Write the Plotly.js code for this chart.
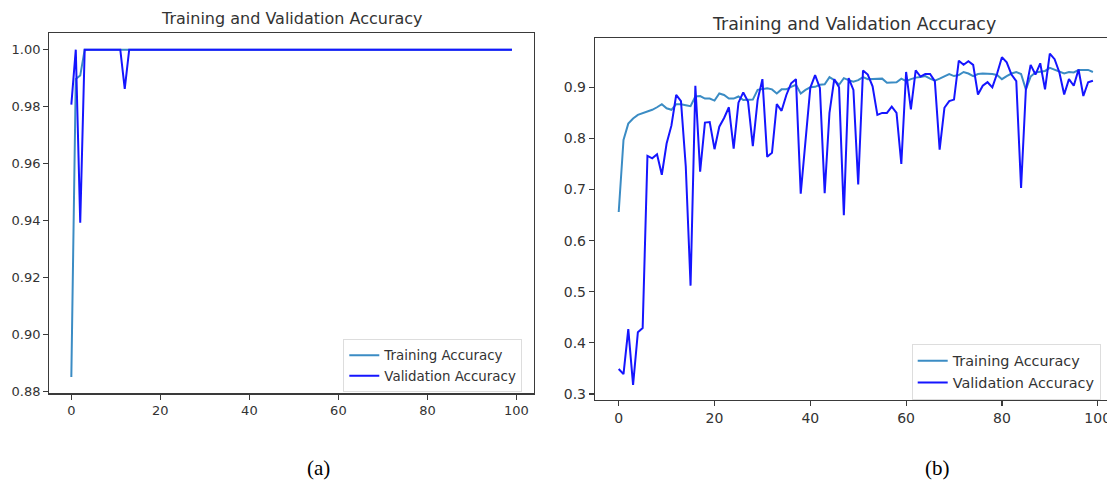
<!DOCTYPE html>
<html>
<head>
<meta charset="utf-8">
<script src="https://cdn.plot.ly/plotly-3.0.1.min.js"></script>
<style>
  html, body { margin: 0; padding: 0; background: #ffffff; }
  #chart { width: 1107px; height: 489px; }
</style>
</head>
<body>
<div id="chart"></div>
<script>
// ---------- data ----------
const epochs = [
  0,1,2,3,4,5,6,7,8,9, 10,11,12,13,14,15,16,17,18,19,
  20,21,22,23,24,25,26,27,28,29, 30,31,32,33,34,35,36,37,38,39,
  40,41,42,43,44,45,46,47,48,49, 50,51,52,53,54,55,56,57,58,59,
  60,61,62,63,64,65,66,67,68,69, 70,71,72,73,74,75,76,77,78,79,
  80,81,82,83,84,85,86,87,88,89, 90,91,92,93,94,95,96,97,98,99
];

// (a) left panel
const trainAccA = [
  0.885, 0.9897, 0.9909, 1, 1, 1, 1, 1, 1, 1,
  1, 1, 1, 1, 1, 1, 1, 1, 1, 1,
  1, 1, 1, 1, 1, 1, 1, 1, 1, 1,
  1, 1, 1, 1, 1, 1, 1, 1, 1, 1,
  1, 1, 1, 1, 1, 1, 1, 1, 1, 1,
  1, 1, 1, 1, 1, 1, 1, 1, 1, 1,
  1, 1, 1, 1, 1, 1, 1, 1, 1, 1,
  1, 1, 1, 1, 1, 1, 1, 1, 1, 1,
  1, 1, 1, 1, 1, 1, 1, 1, 1, 1,
  1, 1, 1, 1, 1, 1, 1, 1, 1, 1
];
const valAccA = [
  0.9807, 1, 0.9392, 1, 1, 1, 1, 1, 1, 1,
  1, 1, 0.9862, 1, 1, 1, 1, 1, 1, 1,
  1, 1, 1, 1, 1, 1, 1, 1, 1, 1,
  1, 1, 1, 1, 1, 1, 1, 1, 1, 1,
  1, 1, 1, 1, 1, 1, 1, 1, 1, 1,
  1, 1, 1, 1, 1, 1, 1, 1, 1, 1,
  1, 1, 1, 1, 1, 1, 1, 1, 1, 1,
  1, 1, 1, 1, 1, 1, 1, 1, 1, 1,
  1, 1, 1, 1, 1, 1, 1, 1, 1, 1,
  1, 1, 1, 1, 1, 1, 1, 1, 1, 1
];

// (b) right panel
const trainAccB = [
  0.656, 0.797, 0.829, 0.839, 0.846, 0.849, 0.852, 0.856, 0.861, 0.867,
  0.859, 0.856, 0.867, 0.867, 0.865, 0.863, 0.882, 0.883, 0.878, 0.878,
  0.874, 0.888, 0.885, 0.878, 0.878, 0.882, 0.875, 0.875, 0.876, 0.895,
  0.896, 0.898, 0.896, 0.888, 0.896, 0.896, 0.901, 0.905, 0.888, 0.895,
  0.900, 0.901, 0.905, 0.906, 0.920, 0.914, 0.905, 0.918, 0.914, 0.911,
  0.914, 0.920, 0.916, 0.916, 0.917, 0.917, 0.909, 0.910, 0.910, 0.917,
  0.912, 0.916, 0.919, 0.920, 0.922, 0.917, 0.913, 0.917, 0.922, 0.926,
  0.922, 0.924, 0.930, 0.927, 0.922, 0.926, 0.927, 0.927, 0.926, 0.924,
  0.916, 0.922, 0.927, 0.930, 0.926, 0.896, 0.921, 0.929, 0.930, 0.932,
  0.938, 0.934, 0.930, 0.927, 0.930, 0.929, 0.934, 0.934, 0.934, 0.930
];
const valAccB = [
  0.349, 0.339, 0.427, 0.318, 0.421, 0.429, 0.766, 0.761, 0.769, 0.729,
  0.790, 0.825, 0.885, 0.873, 0.745, 0.512, 0.903, 0.735, 0.831, 0.832,
  0.779, 0.823, 0.840, 0.861, 0.780, 0.870, 0.890, 0.872, 0.785, 0.875,
  0.916, 0.764, 0.772, 0.867, 0.854, 0.885, 0.908, 0.916, 0.692, 0.800,
  0.899, 0.924, 0.899, 0.693, 0.850, 0.916, 0.900, 0.650, 0.918, 0.895,
  0.710, 0.933, 0.925, 0.902, 0.846, 0.850, 0.850, 0.862, 0.850, 0.750,
  0.930, 0.857, 0.933, 0.921, 0.926, 0.926, 0.912, 0.778, 0.860, 0.873,
  0.876, 0.952, 0.944, 0.951, 0.944, 0.886, 0.903, 0.910, 0.900, 0.927,
  0.959, 0.949, 0.925, 0.912, 0.703, 0.895, 0.944, 0.925, 0.947, 0.896,
  0.966, 0.955, 0.929, 0.886, 0.916, 0.903, 0.935, 0.883, 0.910, 0.913
];

const seriesNames = ['Training Accuracy', 'Validation Accuracy'];
const chartTitle = 'Training and Validation Accuracy';
const ticksA_y = [0.88, 0.90, 0.92, 0.94, 0.96, 0.98, 1.00];
const ticksB_y = [0.3, 0.4, 0.5, 0.6, 0.7, 0.8, 0.9];
const ticksX = [0, 20, 40, 60, 80, 100];
const captions = ['(a)', '(b)'];

// ---------- styling ----------
const W = 1107, H = 489;
const trainColor = '#3b8cc4';
const valColor = '#1515ff';
const axisColor = '#3a3a3a';
const textColor = '#333333';
const fontFam = 'DejaVu Sans, sans-serif';

const px = v => v / W;
const py = v => 1 - v / H;

const traces = [
  { x: epochs, y: trainAccA, type: 'scatter', mode: 'lines', name: seriesNames[0],
    line: { color: trainColor, width: 2 }, xaxis: 'x', yaxis: 'y', legend: 'legend' },
  { x: epochs, y: valAccA, type: 'scatter', mode: 'lines', name: seriesNames[1],
    line: { color: valColor, width: 2 }, xaxis: 'x', yaxis: 'y', legend: 'legend' },
  { x: epochs, y: trainAccB, type: 'scatter', mode: 'lines', name: seriesNames[0],
    line: { color: trainColor, width: 2 }, xaxis: 'x2', yaxis: 'y2', legend: 'legend2' },
  { x: epochs, y: valAccB, type: 'scatter', mode: 'lines', name: seriesNames[1],
    line: { color: valColor, width: 2 }, xaxis: 'x2', yaxis: 'y2', legend: 'legend2' }
];

function axisBase(fs) {
  return {
    showgrid: false, zeroline: false, showline: true,
    linecolor: axisColor, linewidth: 1.2,
    ticks: 'outside', ticklen: 5, tickwidth: 1.2, tickcolor: axisColor,
    tickfont: { family: fontFam, size: fs, color: textColor },
    ticklabeloverflow: 'allow',
    automargin: false, fixedrange: true
  };
}

const layout = {
  width: W, height: H,
  margin: { l: 0, r: 0, t: 0, b: 0, pad: 0 },
  paper_bgcolor: '#ffffff', plot_bgcolor: '#ffffff',
  showlegend: true,
  xaxis: Object.assign(axisBase(13), {
    domain: [px(49.3), px(534)], range: [-4.95, 103.95],
    tickvals: ticksX, ticktext: ticksX.map(String), mirror: true, anchor: 'y'
  }),
  yaxis: Object.assign(axisBase(13), {
    domain: [py(393.3), py(33.3)], range: [0.87925, 1.00575],
    tickvals: ticksA_y, ticktext: ticksA_y.map(v => v.toFixed(2)), mirror: true, anchor: 'x'
  }),
  xaxis2: Object.assign(axisBase(14), {
    domain: [px(595), 1], range: [-4.95, 101.94],
    tickvals: ticksX, ticktext: ticksX.map(String), mirror: true, anchor: 'y2'
  }),
  yaxis2: Object.assign(axisBase(14), {
    domain: [py(400), py(38.3)], range: [0.2883, 0.9959],
    tickvals: ticksB_y, ticktext: ticksB_y.map(v => v.toFixed(1)), mirror: false, anchor: 'x2'
  }),
  legend: {
    x: px(343.3), y: py(339), xanchor: 'left', yanchor: 'top',
    bgcolor: '#ffffff', bordercolor: '#dddddd', borderwidth: 1,
    font: { family: fontFam, size: 13.4, color: textColor },
    itemwidth: 30, tracegroupgap: 0
  },
  legend2: {
    x: px(911.7), y: py(344), xanchor: 'left', yanchor: 'top',
    bgcolor: '#ffffff', bordercolor: '#dddddd', borderwidth: 1,
    font: { family: fontFam, size: 14.4, color: textColor },
    itemwidth: 30, tracegroupgap: 0
  },
  annotations: [
    { text: chartTitle, xref: 'paper', yref: 'paper', x: px(291.5), y: py(19),
      xanchor: 'center', yanchor: 'middle', showarrow: false,
      font: { family: fontFam, size: 16, color: textColor } },
    { text: chartTitle, xref: 'paper', yref: 'paper', x: px(854), y: py(24),
      xanchor: 'center', yanchor: 'middle', showarrow: false,
      font: { family: fontFam, size: 17.4, color: textColor } },
    { text: captions[0], xref: 'paper', yref: 'paper', x: px(318), y: py(468),
      xanchor: 'center', yanchor: 'middle', showarrow: false,
      font: { family: 'Liberation Serif, Times New Roman, serif', size: 21, color: '#000000' } },
    { text: captions[1], xref: 'paper', yref: 'paper', x: px(937), y: py(468),
      xanchor: 'center', yanchor: 'middle', showarrow: false,
      font: { family: 'Liberation Serif, Times New Roman, serif', size: 21, color: '#000000' } }
  ]
};

Plotly.newPlot('chart', traces, layout, { staticPlot: true, displayModeBar: false });
</script>
</body>
</html>
